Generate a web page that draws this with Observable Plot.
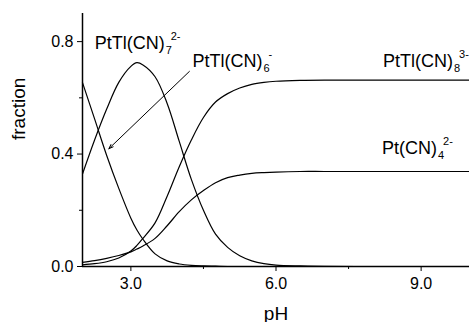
<!DOCTYPE html>
<html><head><meta charset="utf-8">
<script src="https://cdn.jsdelivr.net/npm/d3@7"></script>
<script src="https://cdn.jsdelivr.net/npm/@observablehq/plot@0.6"></script>
<style>body{margin:0;background:#fff} svg{display:block}</style>
</head><body><div id="chart"></div>
<script>
// pH grid
const pH = [2.0, 2.25, 2.5, 2.75, 3.0, 3.125, 3.25, 3.5, 3.75, 4.0, 4.25, 4.5, 4.75, 5.0, 5.25, 5.5, 5.75, 6.0, 6.5, 7.0, 8.0, 9.0, 10.0];
// fractions
const ptTl6 = [0.654, 0.525, 0.395, 0.278, 0.172, 0.130, 0.097, 0.045, 0.020, 0.009, 0.004, 0.002, 0.001, 0, 0, 0, 0, 0, 0, 0, 0, 0, 0];
const ptTl7 = [0.329, 0.450, 0.560, 0.655, 0.712, 0.725, 0.717, 0.675, 0.580, 0.445, 0.310, 0.200, 0.115, 0.068, 0.038, 0.020, 0.010, 0.005, 0.002, 0.0005, 0, 0, 0];
const ptTl8 = [0.006, 0.010, 0.017, 0.030, 0.055, 0.075, 0.100, 0.155, 0.250, 0.355, 0.450, 0.530, 0.585, 0.615, 0.635, 0.648, 0.655, 0.659, 0.662, 0.663, 0.663, 0.663, 0.663];
const ptCN4 = [0.015, 0.021, 0.029, 0.039, 0.052, 0.062, 0.073, 0.100, 0.145, 0.195, 0.237, 0.270, 0.298, 0.316, 0.325, 0.331, 0.334, 0.336, 0.338, 0.338, 0.338, 0.338, 0.338];

const seriesNames = ["PtTl(CN)6-", "PtTl(CN)7 2-", "PtTl(CN)8 3-", "Pt(CN)4 2-"];
const seriesValues = [ptTl6, ptTl7, ptTl8, ptCN4];

// tick values
const xTicks = [3, 6, 9];
const xMinorTicks = [4.5, 7.5];
const yTicks = [0, 0.4, 0.8];
const yMinorTicks = [0.2, 0.6];

// species labels (base text, subscript, superscript) and anchors in data units
const labelBase = ["PtTl(CN)", "PtTl(CN)", "PtTl(CN)", "Pt(CN)"];
const labelSub = ["7", "6", "8", "4"];
const labelSup = ["2-", "-", "3-", "2-"];
const labelPH = [3.70, 5.72, 9.66, 9.33];
const labelFrac = [0.772, 0.708, 0.708, 0.400];

// arrow pointing at PtTl(CN)6- curve
const arrowFrom = [4.21, 0.694];
const arrowTo = [2.545, 0.419];

const rows = seriesNames.flatMap((s, i) => pH.map((p, j) => ({species: s, pH: p, f: seriesValues[i][j]})));
const labels = labelBase.map((b, i) => ({base: b, sub: labelSub[i], sup: labelSup[i], x: labelPH[i], y: labelFrac[i]}));
const arrows = [{x1: arrowFrom[0], y1: arrowFrom[1], x2: arrowTo[0], y2: arrowTo[1]}];

const font = "'Liberation Sans', Arial, Helvetica, sans-serif";

const chart = Plot.plot({
  width: 469,
  height: 322,
  marginLeft: 82,
  marginRight: 0,
  marginTop: 13,
  marginBottom: 56,
  style: {fontFamily: font, background: "white", color: "black", overflow: "visible"},
  x: {domain: [2, 10]},
  y: {domain: [0, 0.9]},
  marks: [
    Plot.line(rows, {x: "pH", y: "f", z: "species", stroke: "black", strokeWidth: 1.2, curve: "catmull-rom"}),
    Plot.ruleX([2], {stroke: "black", strokeWidth: 1.5}),
    Plot.ruleY([0], {stroke: "black", strokeWidth: 1.3}),
    Plot.axisX({ticks: xTicks, tickFormat: d => d.toFixed(1), tickSize: 5, tickPadding: 6, fontSize: 16, label: null}),
    Plot.axisX({ticks: xMinorTicks, tickFormat: () => "", tickSize: 3, label: null}),
    Plot.axisY({ticks: yTicks, tickFormat: d => d.toFixed(1), tickSize: 5, tickPadding: 4, fontSize: 16, label: null}),
    Plot.axisY({ticks: yMinorTicks, tickFormat: () => "", tickSize: 3, label: null}),
    Plot.text(["fraction"], {text: d => d, frameAnchor: "left", dx: -64, rotate: -90, fontSize: 19}),
    Plot.text(["pH"], {text: d => d, frameAnchor: "bottom", dy: 53, fontSize: 19}),
    Plot.text(labels, {x: "x", y: "y", text: "base", textAnchor: "end", lineAnchor: "bottom", fontSize: 18}),
    Plot.text(labels, {x: "x", y: "y", text: "sub", textAnchor: "start", lineAnchor: "bottom", dx: 1, dy: 5, fontSize: 11}),
    Plot.text(labels, {x: "x", y: "y", text: "sup", textAnchor: "start", lineAnchor: "bottom", dx: 6, dy: -9, fontSize: 11}),
    Plot.arrow(arrows, {x1: "x1", y1: "y1", x2: "x2", y2: "y2", stroke: "black", strokeWidth: 1, headLength: 7, headAngle: 40})
  ]
});
document.getElementById("chart").appendChild(chart);
</script>
</body></html>
